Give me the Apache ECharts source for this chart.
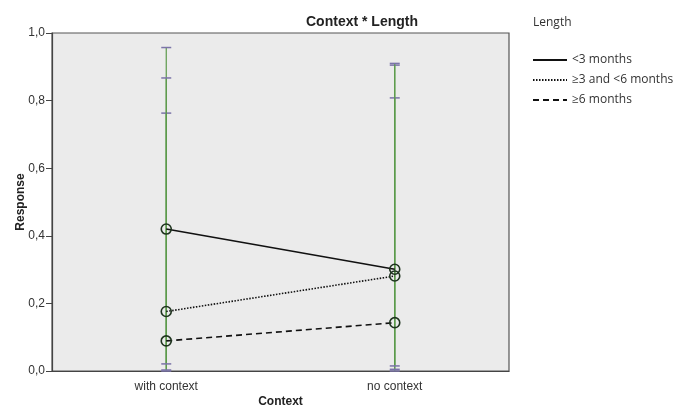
<!DOCTYPE html>
<html><head><meta charset="utf-8">
<script src="https://cdn.jsdelivr.net/npm/echarts@6/dist/echarts.min.js"></script>
<style>html,body{margin:0;padding:0;background:#fff}#c{width:676px;height:412px}</style>
</head><body><div id="c"></div>
<script>
const categories = ['with context', 'no context'];
const seriesNames = ['<3 months', '≥3 and <6 months', '≥6 months'];
const lt3 = [0.42, 0.301];
const mid = [0.176, 0.281];
const ge6 = [0.089, 0.143];
const lt3High = [0.957, 0.905];
const lt3Low = [0.0, 0.0];
const midHigh = [0.763, 0.808];
const midLow = [0.003, 0.005];
const ge6High = [0.867, 0.910];
const ge6Low = [0.021, 0.015];
const yTicks = ['0,0', '0,2', '0,4', '0,6', '0,8', '1,0'];

const chart = echarts.init(document.getElementById('c'));
const font = 'Liberation Sans, Arial, sans-serif';

function errSeries(low, high) {
  return {
    type: 'custom', silent: true, z: 1,
    data: categories.map((c, i) => [i, low[i], high[i]]),
    renderItem: (params, api) => {
      const x = api.coord([api.value(0), 0])[0];
      const yl = api.coord([api.value(0), api.value(1)])[1];
      const yh = api.coord([api.value(0), api.value(2)])[1];
      const w = 5;
      return {
        type: 'group', children: [
          {type: 'line', shape: {x1: x, y1: yl, x2: x, y2: yh}, style: {stroke: '#5b9a4a', lineWidth: 1.2}},
          {type: 'line', shape: {x1: x - w, y1: yh, x2: x + w, y2: yh}, style: {stroke: '#7b74a8', lineWidth: 1.5}},
          {type: 'line', shape: {x1: x - w, y1: yl, x2: x + w, y2: yl}, style: {stroke: '#7b74a8', lineWidth: 1.5}}
        ]
      };
    }
  };
}

function lineSeries(name, data, type) {
  return {
    name, type: 'line', data, z: 3,
    symbol: 'circle', symbolSize: 10,
    itemStyle: {color: 'transparent', borderColor: '#1e331e', borderWidth: 1.6},
    lineStyle: {color: '#111', width: 1.6, type},
    emphasis: {disabled: true}
  };
}

chart.setOption({
  animation: false,
  backgroundColor: '#fff',
  title: [
    {text: 'Context * Length', left: 357, top: 10, textAlign: 'center',
     textStyle: {fontFamily: font, fontSize: 14, fontWeight: 'bold', color: '#222'}},
    {text: 'Length', left: 528, top: 12,
     textStyle: {fontFamily: 'Open Sans, Liberation Sans, sans-serif', fontSize: 12, fontWeight: 'normal', color: '#333'}}
  ],
  legend: {
    orient: 'vertical', left: 527, top: 49, itemWidth: 34, itemHeight: 12, itemGap: 8,
    data: seriesNames,
    itemStyle: {color: 'transparent', borderColor: 'transparent', borderWidth: 0},
    textStyle: {fontFamily: 'Open Sans, Liberation Sans, sans-serif', fontSize: 12, color: '#333'},
    selectedMode: false
  },
  grid: {left: 52, right: 167, top: 33, bottom: 41, outerBoundsMode: 'none', containLabel: false,
    show: true, backgroundColor: '#ebebeb', borderColor: '#555', borderWidth: 1.2},
  xAxis: {
    type: 'category', data: categories, boundaryGap: true,
    name: 'Context', nameLocation: 'middle', nameGap: 25, nameMoveOverlap: false,
    nameTextStyle: {fontFamily: font, fontSize: 12, fontWeight: 'bold', color: '#222'},
    axisLine: {lineStyle: {color: '#444', width: 1.2}},
    axisTick: {alignWithLabel: true, length: 7, lineStyle: {color: '#444'}},
    axisLabel: {fontFamily: font, fontSize: 12, color: '#333', margin: 10},
    splitLine: {show: false}
  },
  yAxis: {
    type: 'value', min: 0, max: 1, interval: 0.2,
    name: 'Response', nameLocation: 'middle', nameGap: 25, nameRotate: 90, nameMoveOverlap: false,
    nameTextStyle: {fontFamily: font, fontSize: 12, fontWeight: 'bold', color: '#222'},
    axisLine: {show: true, lineStyle: {color: '#444', width: 1.2}},
    axisTick: {show: true, length: 6, lineStyle: {color: '#444'}},
    axisLabel: {fontFamily: font, fontSize: 12, color: '#333', margin: 7,
      formatter: v => yTicks[Math.round(v / 0.2)]},
    splitLine: {show: false}
  },
  series: [
    errSeries(lt3Low, lt3High),
    errSeries(midLow, midHigh),
    errSeries(ge6Low, ge6High),
    lineSeries(seriesNames[0], lt3, 'solid'),
    lineSeries(seriesNames[1], mid, [1.5, 1.5]),
    lineSeries(seriesNames[2], ge6, [6, 4])
  ]
});
</script></body></html>
